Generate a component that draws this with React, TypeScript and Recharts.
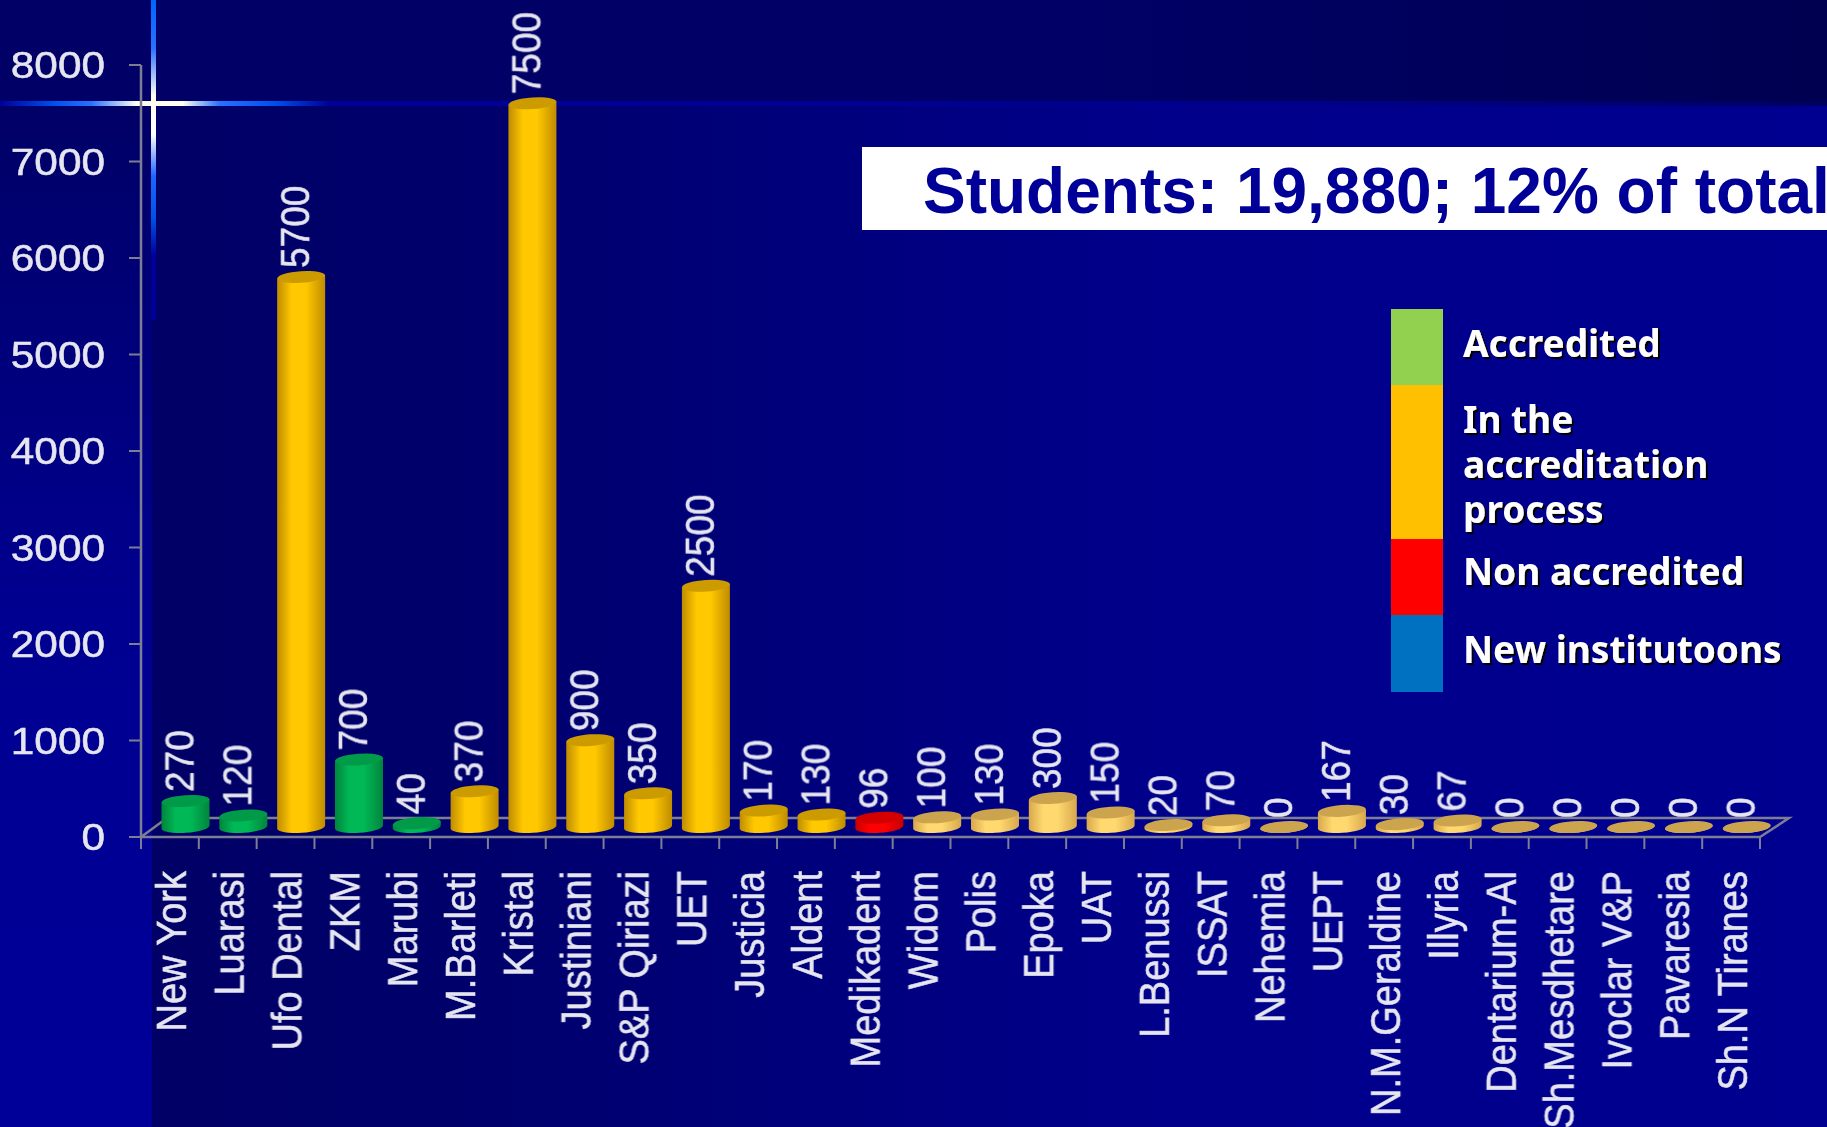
import React from "react";
import { BarChart, Bar, XAxis, YAxis, LabelList } from "recharts";

const categories = ["New York","Luarasi","Ufo Dental","ZKM","Marubi","M.Barleti","Kristal","Justiniani","S&P Qiriazi","UET","Justicia","Aldent","Medikadent","Widom","Polis","Epoka","UAT","L.Benussi","ISSAT","Nehemia","UEPT","N.M.Geraldine","Illyria","Dentarium-Al","Sh.Mesdhetare","Ivoclar V&P","Pavaresia","Sh.N Tiranes"];
const students = [270,120,5700,700,40,370,7500,900,350,2500,170,130,96,100,130,300,150,20,70,0,167,30,67,0,0,0,0,0];
const statuses = ["green","green","amber","green","green","amber","amber","amber","amber","amber","amber","amber","red","light","light","light","light","light","light","light","light","light","light","light","light","light","light","light"];
const yTicks = [0,1000,2000,3000,4000,5000,6000,7000,8000];
const titleText = "Students: 19,880; 12% of total";
const legendColors = ["#92D050","#FFC000","#FF0000","#0070C0"];
const legendLines = ["Accredited","In the","accreditation","process","Non accredited","New institutoons"];

const table = categories.map((name, i) => ({ name, students: students[i], status: statuses[i] }));

const W = 1827, H = 1127, AXIS_X = 141, AXIS_Y = 837, TOP_Y = 65, RIGHT_X = 1760;
const STEP = (RIGHT_X - AXIS_X) / categories.length;
const DX = 15.5, DY = -10, RX = 24, RY = 5.8, TILT = 1.7;
const TEXT = "#e6e6f0", FONT = "'Liberation Sans', Arial, sans-serif", AXIS_COLOR = "#7d7d93";
const TEXT_STROKE = { stroke: TEXT, strokeWidth: 0.5 };

const tops: Record<string, string> = { green: "#009a48", amber: "#cc9b00", red: "#d40000", light: "#cda44e" };

function CylinderShape(props: any) {
  const { x, y, width, height, payload } = props;
  const cx = x + width / 2 + DX;
  const top = y + DY;
  const base = y + height + DY;
  const l = cx - RX, r = cx + RX;
  const body = `M${l},${top + TILT} L${l},${base + TILT} A${RX},${RY} -4 0 0 ${r},${base - TILT} L${r},${top - TILT} Z`;
  return (
    <g>
      <path d={body} fill={`url(#cyl-${payload.status})`} />
      <ellipse cx={cx} cy={top} rx={RX} ry={RY} transform={`rotate(-4 ${cx} ${top})`} fill={tops[payload.status]} />
    </g>
  );
}

function ValueLabel(props: any) {
  const { x, y, width, value } = props;
  const cx = x + width / 2 + DX;
  return (
    <text transform={`translate(${cx + 8},${y + DY - 9}) rotate(-90) scale(1,1.12)`} fontFamily={FONT} fontSize={37} fill={TEXT} {...TEXT_STROKE} filter="url(#soft)">{value}</text>
  );
}

function CategoryTick(props: any) {
  const { x, y, payload, index } = props;
  return (
    <g>
      {index === 0 && <line x1={x - STEP / 2} x2={x - STEP / 2} y1={y} y2={y + 12} stroke={AXIS_COLOR} strokeWidth={2} />}
      <line x1={x + STEP / 2} x2={x + STEP / 2} y1={y} y2={y + 12} stroke={AXIS_COLOR} strokeWidth={2} />
      <text transform={`translate(${x + 16},${y + 34}) rotate(-90) scale(1,1.1)`} textAnchor="end" fontFamily={FONT} fontSize={38} fill={TEXT} {...TEXT_STROKE} filter="url(#soft)">{payload.value}</text>
    </g>
  );
}

function ValueTick(props: any) {
  const { y, payload } = props;
  return (
    <text transform={`translate(105,${y + 13}) scale(1.16,1)`} textAnchor="end" fontFamily={FONT} fontSize={36.5} fill={TEXT} {...TEXT_STROKE} filter="url(#soft)">{payload.value}</text>
  );
}

function Backdrop() {
  return (
    <svg width={W} height={H} style={{ position: "absolute", left: 0, top: 0 }}>
      <defs>
        <linearGradient id="plotBg" x1="0" x2="1" y1="0" y2="0">
          <stop offset="0" stopColor="#000066" />
          <stop offset="0.2" stopColor="#00006c" />
          <stop offset="0.4" stopColor="#00007c" />
          <stop offset="0.6" stopColor="#00008a" />
          <stop offset="1" stopColor="#000090" />
        </linearGradient>
        <linearGradient id="stripBg" x1="0" x2="0" y1="0" y2="1">
          <stop offset="0" stopColor="#000066" />
          <stop offset="0.5" stopColor="#000090" />
          <stop offset="1" stopColor="#000099" />
        </linearGradient>
        <linearGradient id="topBg" x1="0" x2="1" y1="0" y2="0">
          <stop offset="0" stopColor="#000066" />
          <stop offset="0.6" stopColor="#000066" />
          <stop offset="1" stopColor="#000050" />
        </linearGradient>
        <linearGradient id="glowV" gradientUnits="userSpaceOnUse" x1="0" x2="0" y1="0" y2="320">
          <stop offset="0" stopColor="#0066ff" />
          <stop offset="0.15" stopColor="#2a70ff" />
          <stop offset="0.3" stopColor="#fffff0" />
          <stop offset="0.42" stopColor="#ffffff" />
          <stop offset="0.55" stopColor="#1f66ff" />
          <stop offset="0.68" stopColor="#0052e8" />
          <stop offset="0.8" stopColor="#000099" />
          <stop offset="1" stopColor="#000099" />
        </linearGradient>
        <linearGradient id="glowH" gradientUnits="userSpaceOnUse" x1="0" x2="1827" y1="0" y2="0">
          <stop offset="0" stopColor="#000099" />
          <stop offset="0.03" stopColor="#0050f0" />
          <stop offset="0.05" stopColor="#2a70ff" />
          <stop offset="0.075" stopColor="#fffff0" />
          <stop offset="0.1" stopColor="#fffff0" />
          <stop offset="0.12" stopColor="#2a70ff" />
          <stop offset="0.15" stopColor="#0050f0" />
          <stop offset="0.18" stopColor="#000099" />
          <stop offset="0.7" stopColor="#00008c" />
          <stop offset="1" stopColor="#000060" />
        </linearGradient>
      </defs>
      <rect x={0} y={0} width={W} height={H} fill="#000066" />
      <rect x={0} y={104} width={152} height={H - 104} fill="url(#stripBg)" />
      <rect x={152} y={104} width={W - 152} height={H - 104} fill="url(#plotBg)" />
      <rect x={0} y={0} width={W} height={106} fill="url(#topBg)" />
      <rect x={0} y={101} width={W} height={5} fill="url(#glowH)" />
      <rect x={151} y={0} width={5} height={320} fill="url(#glowV)" />
      <path d={`M${AXIS_X},${AXIS_Y} L${AXIS_X + 26},818 L1789,818 L${RIGHT_X},${AXIS_Y}`} fill="none" stroke={AXIS_COLOR} strokeWidth={2.5} />
    </svg>
  );
}

const legendBands = [[309, 385], [385, 539], [539, 615], [615, 692]];
const legendBaselines = [357, 433, 478, 523, 585, 663];

function Overlay() {
  return (
    <svg width={W} height={H} style={{ position: "absolute", left: 0, top: 0, pointerEvents: "none" }}>
      <defs>
        <filter id="legendShadow" x="-5%" y="-10%" width="110%" height="130%">
          <feDropShadow dx="2" dy="2" stdDeviation="0" floodColor="#000000" />
        </filter>
      </defs>
      <rect x={862} y={147} width={W - 862} height={83} fill="#ffffff" />
      <text x={923} y={213} fontFamily={FONT} fontWeight={700} fontSize={64} fill="#000099">{titleText}</text>
      {legendColors.map((c, i) => (
        <rect key={c} x={1391} y={legendBands[i][0]} width={52} height={legendBands[i][1] - legendBands[i][0]} fill={c} />
      ))}
      {legendLines.map((t, i) => (
        <text key={t} x={1463} y={legendBaselines[i]} fontFamily="'Noto Sans', sans-serif" fontWeight={700} fontSize={37} fill="#ffffff" filter="url(#legendShadow)">{t}</text>
      ))}
    </svg>
  );
}

function Grad({ id, edge, mid }: { id: string; edge: string; mid: string }) {
  return (
    <linearGradient id={id} x1="0" x2="1" y1="0" y2="0">
      <stop offset="0" stopColor={edge} />
      <stop offset="0.3" stopColor={mid} />
      <stop offset="0.6" stopColor={mid} />
      <stop offset="1" stopColor={edge} />
    </linearGradient>
  );
}

export default function App() {
  return (
    <div style={{ position: "absolute", left: 0, top: 0, width: W, height: H, overflow: "hidden" }}>
      <Backdrop />
      <div style={{ position: "absolute", left: 0, top: 0 }}>
        <BarChart width={W} height={H} data={table} margin={{ top: TOP_Y, right: W - RIGHT_X, bottom: 0, left: 0 }} barSize={48}>
          <defs>
            <Grad id="cyl-green" edge="#00853c" mid="#00b856" />
            <Grad id="cyl-amber" edge="#bf8c00" mid="#ffc800" />
            <Grad id="cyl-red" edge="#c80000" mid="#ff0000" />
            <Grad id="cyl-light" edge="#d8a84c" mid="#ffd870" />
            <filter id="soft" x="-10%" y="-20%" width="120%" height="140%">
              <feGaussianBlur stdDeviation="0.5" />
            </filter>
          </defs>
          <XAxis dataKey="name" interval={0} height={H - AXIS_Y} axisLine={{ stroke: AXIS_COLOR, strokeWidth: 2.5 }} tickLine={false} tickSize={0} tickMargin={0} tick={<CategoryTick />} />
          <YAxis width={AXIS_X} domain={[0, 8000]} ticks={yTicks} interval={0} axisLine={{ stroke: AXIS_COLOR, strokeWidth: 2.5 }} tickLine={{ stroke: AXIS_COLOR, strokeWidth: 2 }} tickSize={12} tickMargin={0} tick={<ValueTick />} />
          <Bar dataKey="students" isAnimationActive={false} shape={<CylinderShape />}>
            <LabelList dataKey="students" content={<ValueLabel />} />
          </Bar>
        </BarChart>
      </div>
      <Overlay />
    </div>
  );
}
